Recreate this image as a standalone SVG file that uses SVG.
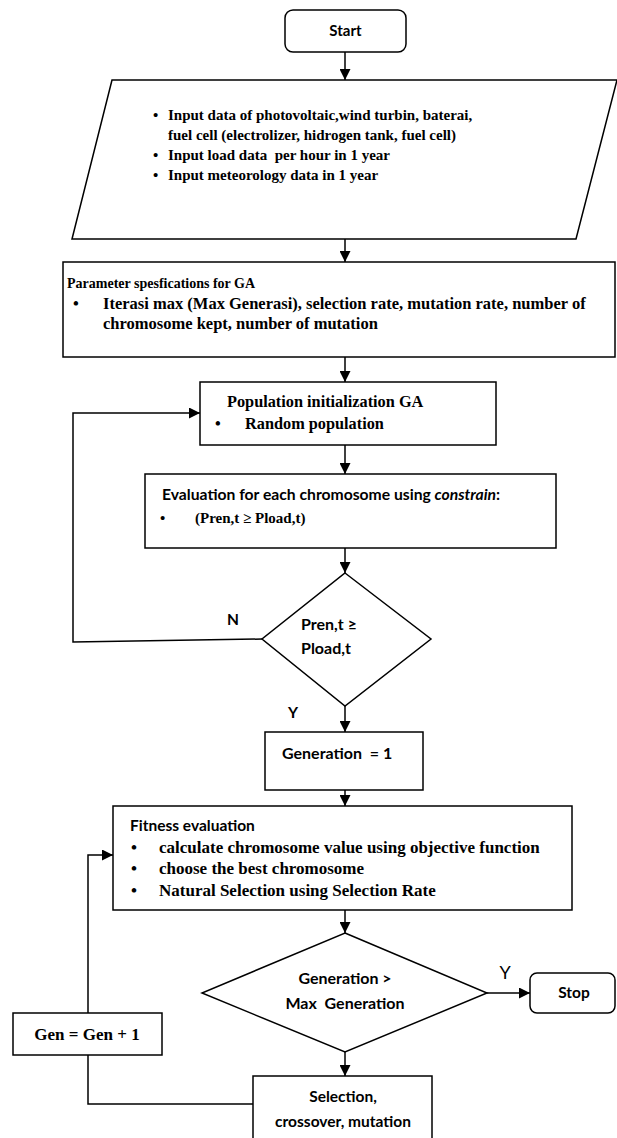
<svg xmlns="http://www.w3.org/2000/svg" width="617" height="1138" viewBox="0 0 617 1138">
<style>
.box{fill:#fff;stroke:#000;stroke-width:1.5}
.ln{fill:none;stroke:#000;stroke-width:1.5}
.tm{font-family:"Liberation Serif","Times New Roman",serif;font-weight:bold;font-size:15px;fill:#000}
.cb{font-family:Lato,"Liberation Sans",sans-serif;font-weight:bold;font-size:15.5px;fill:#000}
.mid{text-anchor:middle}
</style>
<defs>
<marker id="ah" viewBox="0 0 11 11" markerWidth="11" markerHeight="11" refX="11" refY="5.5" orient="auto" markerUnits="userSpaceOnUse">
<path d="M0,0 L11,5.5 L0,11 z" fill="#000"/>
</marker>
</defs>
<rect width="617" height="1138" fill="#fff"/>

<g id="connectors">
<line class="ln" x1="345" y1="52" x2="345" y2="80" marker-end="url(#ah)"/>
<line class="ln" x1="345" y1="239" x2="345" y2="262" marker-end="url(#ah)"/>
<line class="ln" x1="345" y1="357" x2="345" y2="382" marker-end="url(#ah)"/>
<line class="ln" x1="345" y1="445" x2="345" y2="474" marker-end="url(#ah)"/>
<line class="ln" x1="345" y1="548" x2="345" y2="573" marker-end="url(#ah)"/>
<polyline class="ln" points="262,639 73,642 73,413 200,413" marker-end="url(#ah)"/>
<line class="ln" x1="345" y1="706" x2="345" y2="732" marker-end="url(#ah)"/>
<line class="ln" x1="345" y1="790" x2="345" y2="806" marker-end="url(#ah)"/>
<line class="ln" x1="345" y1="910" x2="345" y2="933" marker-end="url(#ah)"/>
<line class="ln" x1="487" y1="993" x2="530" y2="993" marker-end="url(#ah)"/>
<line class="ln" x1="345" y1="1052" x2="345" y2="1076" marker-end="url(#ah)"/>
<polyline class="ln" points="88,1013 88,855 113,855" marker-end="url(#ah)"/>
<polyline class="ln" points="88,1055 88,1104 253,1104"/>
<text class="cb" x="233" y="625" text-anchor="middle">N</text>
<text class="cb" x="293" y="718" text-anchor="middle">Y</text>
<text x="505" y="979" text-anchor="middle" style="font-family:Lato,'Liberation Sans',sans-serif;font-size:18px;fill:#000">Y</text>
</g>

<g id="start">
<rect class="box" x="285" y="10" width="121" height="42" rx="8"/>
<text class="cb mid" x="345.5" y="36" style="font-size:15px">Start</text>
</g>

<g id="input">
<polygon class="box" points="112,80 617,80 576,239 72,239"/>
<text class="tm" style="font-size:15px"><tspan x="153" y="120">•</tspan><tspan x="168" y="120">Input data of photovoltaic,wind turbin, baterai,</tspan><tspan x="168" y="140">fuel cell (electrolizer, hidrogen tank, fuel cell)</tspan><tspan x="153" y="160">•</tspan><tspan x="168" y="160" xml:space="preserve">Input load data  per hour in 1 year</tspan><tspan x="153" y="180">•</tspan><tspan x="168" y="180">Input meteorology data in 1 year</tspan></text>
</g>

<g id="params">
<rect class="box" x="63" y="262" width="552" height="95"/>
<text class="tm" x="67" y="288" style="font-size:14px">Parameter spesfications for GA</text>
<text class="tm" style="font-size:16.5px"><tspan x="73" y="309">•</tspan><tspan x="103" y="309">Iterasi max (Max Generasi), selection rate, mutation rate, number of</tspan><tspan x="103" y="329">chromosome kept, number of mutation</tspan></text>
</g>

<g id="popinit">
<rect class="box" x="200" y="382" width="296" height="63"/>
<text class="tm" style="font-size:16.3px"><tspan x="227" y="407">Population initialization GA</tspan><tspan x="215" y="429">•</tspan><tspan x="245" y="429">Random population</tspan></text>
</g>

<g id="evaluation">
<rect class="box" x="145" y="474" width="411" height="74"/>
<text class="cb" x="162" y="500" style="font-size:15.7px">Evaluation for each chromosome using <tspan font-style="italic">constrain</tspan>:</text>
<text class="tm"><tspan x="160" y="523">•</tspan><tspan x="195" y="523">(Pren,t ≥ Pload,t)</tspan></text>
</g>

<g id="decision1">
<polygon class="box" points="345,573 431,639 345,706 262,639"/>
<text class="cb" style="font-size:16px"><tspan x="301" y="630">Pren,t ≥</tspan><tspan x="301" y="654">Pload,t</tspan></text>
</g>

<g id="gen1">
<rect class="box" x="265" y="732" width="158" height="58"/>
<text class="cb" x="282" y="759" style="font-size:16px" xml:space="preserve">Generation  = 1</text>
</g>

<g id="fitness">
<rect class="box" x="113" y="806" width="459" height="104"/>
<text class="cb" x="130" y="831">Fitness evaluation</text>
<text class="tm" style="font-size:17px"><tspan x="131" y="853">•</tspan><tspan x="159" y="853">calculate chromosome value using objective function</tspan><tspan x="131" y="874">•</tspan><tspan x="159" y="874">choose the best chromosome</tspan><tspan x="131" y="896">•</tspan><tspan x="159" y="896">Natural Selection using Selection Rate</tspan></text>
</g>

<g id="decision2">
<polygon class="box" points="345,933 487,993 345,1052 202,993"/>
<text class="cb mid" x="345" y="984" style="font-size:16px">Generation &gt;</text>
<text class="cb mid" x="345" y="1009" style="font-size:16px" xml:space="preserve">Max  Generation</text>
</g>

<g id="stop">
<rect class="box" x="530" y="973" width="85" height="40" rx="7"/>
<text class="cb mid" x="574" y="998">Stop</text>
</g>

<g id="genplus">
<rect class="box" x="13" y="1013" width="149" height="42"/>
<text class="tm mid" x="87" y="1040" style="font-size:17px">Gen = Gen + 1</text>
</g>

<g id="selection">
<rect class="box" x="253" y="1076" width="179" height="70"/>
<text class="cb mid" x="343" y="1102">Selection,</text>
<text class="cb mid" x="343" y="1127">crossover, mutation</text>
</g>
</svg>
